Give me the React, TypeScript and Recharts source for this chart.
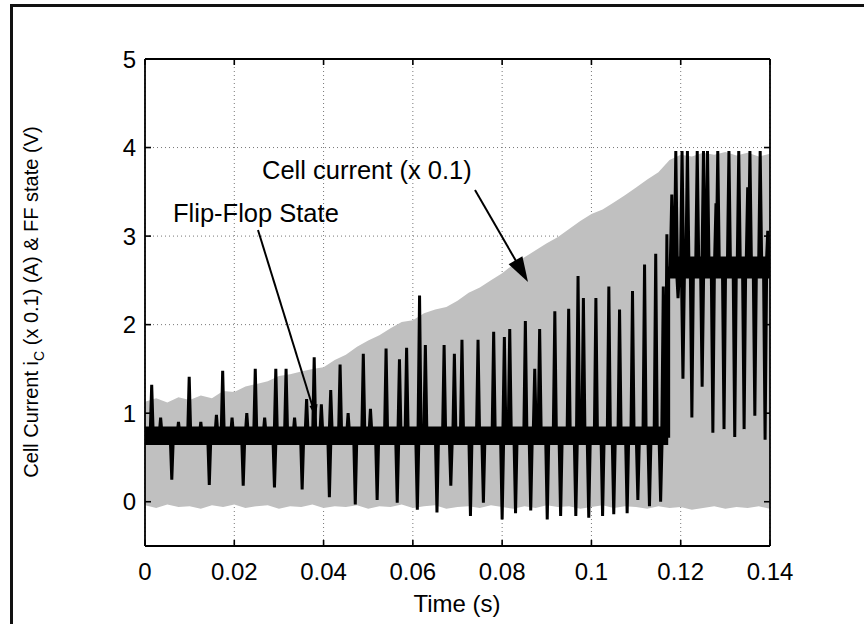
import React from 'react';
import { ComposedChart, Area, Line, XAxis, YAxis, CartesianGrid } from 'recharts';

// ---------- data ----------
const xTicks = [0, 0.02, 0.04, 0.06, 0.08, 0.1, 0.12, 0.14];
const yTicks = [0, 1, 2, 3, 4, 5];

// Cell current (x 0.1) envelope (gray band)
const envT = [
  0, 0.0025, 0.005, 0.0075, 0.01, 0.0125, 0.015, 0.0175, 0.02, 0.0225,
  0.025, 0.0275, 0.03, 0.0325, 0.035, 0.0375, 0.04, 0.0425, 0.045, 0.0475,
  0.05, 0.0525, 0.055, 0.0575, 0.06, 0.0625, 0.065, 0.0675, 0.07, 0.0725,
  0.075, 0.0775, 0.08, 0.0825, 0.085, 0.0875, 0.09, 0.0925, 0.095, 0.0975,
  0.1, 0.1025, 0.105, 0.1075, 0.11, 0.1125, 0.115, 0.1175, 0.12, 0.1225,
  0.125, 0.1275, 0.13, 0.1325, 0.135, 0.1375, 0.14,
];
const envHigh = [
  1.13, 1.17, 1.12, 1.18, 1.15, 1.2, 1.17, 1.25, 1.24, 1.3,
  1.33, 1.36, 1.42, 1.44, 1.47, 1.5, 1.52, 1.6, 1.66, 1.75,
  1.82, 1.88, 1.96, 2.03, 2.05, 2.13, 2.17, 2.2, 2.27, 2.36,
  2.42, 2.5, 2.58, 2.68, 2.76, 2.84, 2.92, 2.99, 3.08, 3.17,
  3.25, 3.3, 3.38, 3.46, 3.55, 3.64, 3.72, 3.86, 3.92, 3.9,
  3.94, 3.92, 3.95, 3.91, 3.94, 3.9, 3.93,
];
const envLow = [
  -0.04, -0.07, -0.03, -0.06, -0.05, -0.08, -0.04, -0.06, -0.03, -0.07,
  -0.05, -0.04, -0.08, -0.05, -0.06, -0.03, -0.07, -0.05, -0.06, -0.04,
  -0.08, -0.05, -0.06, -0.03, -0.07, -0.05, -0.04, -0.08, -0.06, -0.05,
  -0.07, -0.04, -0.06, -0.08, -0.05, -0.07, -0.04, -0.06, -0.05, -0.08,
  -0.06, -0.04, -0.07, -0.05, -0.06, -0.08, -0.05, -0.07, -0.06, -0.09,
  -0.07, -0.05, -0.08, -0.06, -0.07, -0.05, -0.08,
];

// Flip-flop state: dense noise band around the resting level
const bandT = [0, 0.1172, 0.1174, 0.14];
const bandLow = [0.64, 0.64, 2.52, 2.52];
const bandHigh = [0.85, 0.85, 2.77, 2.77];

// Flip-flop state: resting levels and spikes
const ffLevelBefore = 0.74;
const ffLevelAfter = 2.64;
const ffSwitchT = 0.1173;
const spikeT = [
  0.0015, 0.0035, 0.006, 0.0075, 0.0099, 0.0125, 0.0144, 0.016, 0.0174, 0.0195,
  0.022, 0.0228, 0.0247, 0.0268, 0.029, 0.0293, 0.0316, 0.0335, 0.0352, 0.0362,
  0.0379, 0.0395, 0.0413, 0.0416, 0.0437, 0.0455, 0.0471, 0.0489, 0.0505, 0.052,
  0.054, 0.0565, 0.057, 0.0586, 0.061, 0.0615, 0.0628, 0.0654, 0.067, 0.0685,
  0.0693, 0.071, 0.0729, 0.0746, 0.0758, 0.0781, 0.08, 0.0805, 0.0817, 0.083,
  0.0852, 0.0864, 0.0873, 0.0884, 0.0901, 0.0918, 0.0931, 0.0949, 0.0965, 0.097,
  0.0982, 0.0994, 0.101, 0.1025, 0.1039, 0.105, 0.1063, 0.108, 0.1092, 0.1104,
  0.1119, 0.113, 0.1144, 0.1155, 0.1161, 0.1169,
  0.118, 0.1189, 0.1194, 0.1203, 0.1205, 0.1215, 0.1225, 0.1237, 0.1248, 0.1251,
  0.126, 0.1272, 0.1279, 0.1283, 0.1297, 0.1308, 0.1321, 0.133, 0.1342, 0.135,
  0.1355, 0.1366, 0.1378, 0.1389, 0.1395,
];
const spikeV = [
  1.32, 0.95, 0.25, 0.9, 1.41, 0.9, 0.19, 0.98, 1.48, 0.95,
  0.18, 1.0, 1.5, 0.95, 0.16, 1.5, 1.5, 0.95, 0.14, 1.16,
  1.63, 1.1, 0.05, 1.26, 1.55, 1.0, -0.03, 1.67, 1.05, 0.02,
  1.73, -0.01, 1.61, 1.74, -0.09, 2.33, 1.77, -0.12, 1.77, 0.18,
  1.67, 1.83, -0.16, 1.83, -0.01, 1.92, -0.2, 1.86, 1.95, -0.13,
  2.04, -0.1, 1.5, 1.95, -0.2, 2.15, -0.16, 2.18, -0.16, 2.55,
  2.3, -0.18, 2.3, -0.16, 2.43, -0.14, 2.17, -0.13, 2.38, 0.02,
  2.68, -0.05, 2.8, 0.0, 2.43, 3.02,
  3.47, 3.96, 2.3, 3.96, 1.39, 3.96, 0.95, 3.96, 1.3, 3.96,
  3.96, 0.78, 3.37, 3.96, 0.82, 3.96, 0.73, 3.96, 0.82, 3.55,
  3.96, 0.97, 3.96, 0.7, 3.06,
];

// ---------- series tables built from the arrays ----------
const envData = envT.map((t, i) => ({ t, cell: [envLow[i], envHigh[i]] }));
const bandData = bandT.map((t, i) => ({ t, ff: [bandLow[i], bandHigh[i]] }));

const SPIKE_HALF = 0.00035;
const ffData: { t: number; v: number }[] = [];
ffData.push({ t: 0, v: ffLevelBefore });
let switched = false;
spikeT.forEach((t, i) => {
  if (!switched && t > ffSwitchT) {
    ffData.push({ t: ffSwitchT, v: ffLevelBefore });
    ffData.push({ t: ffSwitchT, v: ffLevelAfter });
    switched = true;
  }
  const base = t < ffSwitchT ? ffLevelBefore : ffLevelAfter;
  ffData.push({ t: t - SPIKE_HALF, v: base });
  ffData.push({ t, v: spikeV[i] });
  ffData.push({ t: t + SPIKE_HALF, v: base });
});
ffData.push({ t: 0.14, v: ffLevelAfter });

// ---------- styling ----------
const FONT = '"Liberation Sans", Arial, Helvetica, sans-serif';
const fmt = (v: number) => String(v);

const BottomTick = (props: any) => {
  const { x, y, payload } = props;
  return (
    <g>
      <line x1={x} x2={x} y1={y} y2={y - 6} stroke="#000" strokeWidth={1.6} />
      <text x={x} y={y + 34} textAnchor="middle" fontSize={24} fontFamily={FONT} fill="#000">
        {fmt(payload.value)}
      </text>
    </g>
  );
};
const TopTick = (props: any) => {
  const { x, y } = props;
  return <line x1={x} x2={x} y1={y} y2={y + 6} stroke="#000" strokeWidth={1.6} />;
};
const LeftTick = (props: any) => {
  const { x, y, payload } = props;
  return (
    <g>
      <line x1={x} x2={x + 6} y1={y} y2={y} stroke="#000" strokeWidth={1.6} />
      <text x={x - 9} y={y + 8.5} textAnchor="end" fontSize={24} fontFamily={FONT} fill="#000">
        {fmt(payload.value)}
      </text>
    </g>
  );
};
const RightTick = (props: any) => {
  const { x, y } = props;
  return <line x1={x} x2={x - 6} y1={y} y2={y} stroke="#000" strokeWidth={1.6} />;
};

export default function App() {
  return (
    <div
      style={{
        position: 'absolute',
        left: 0,
        top: 0,
        width: 864,
        height: 624,
        overflow: 'hidden',
        background: '#fff',
      }}
    >
      <div
        style={{
          position: 'absolute',
          left: 10,
          top: 4,
          width: 900,
          height: 700,
          borderLeft: '3px solid #111',
          borderTop: '3px solid #111',
        }}
      />
      <div style={{ position: 'absolute', left: 0, top: 0 }}>
        <ComposedChart
          width={864}
          height={624}
          margin={{ top: 58, right: 93, bottom: 38, left: 85 }}
        >
          <CartesianGrid stroke="#777" strokeDasharray="1 3" strokeWidth={1} />
          <XAxis
            dataKey="t"
            type="number"
            domain={[0, 0.14]}
            ticks={xTicks}
            interval={0}
            height={40}
            tickSize={0}
            tickMargin={0}
            tick={<BottomTick />}
            axisLine={{ stroke: '#000', strokeWidth: 1.8 }}
            allowDataOverflow
          />
          <XAxis
            xAxisId="top"
            orientation="top"
            dataKey="t"
            type="number"
            domain={[0, 0.14]}
            ticks={xTicks}
            interval={0}
            height={1}
            tickSize={0}
            tickMargin={0}
            tick={<TopTick />}
            axisLine={{ stroke: '#000', strokeWidth: 1.8 }}
            allowDataOverflow
          />
          <YAxis
            type="number"
            domain={[-0.5, 5]}
            ticks={yTicks}
            interval={0}
            width={60}
            tickSize={0}
            tickMargin={0}
            tick={<LeftTick />}
            axisLine={{ stroke: '#000', strokeWidth: 1.8 }}
            allowDataOverflow
          />
          <YAxis
            yAxisId="right"
            orientation="right"
            type="number"
            domain={[-0.5, 5]}
            ticks={yTicks}
            interval={0}
            width={1}
            tickSize={0}
            tickMargin={0}
            tick={<RightTick />}
            axisLine={{ stroke: '#000', strokeWidth: 1.8 }}
            allowDataOverflow
          />
          <Area
            data={envData}
            dataKey="cell"
            type="linear"
            fill="#c0c0c0"
            fillOpacity={1}
            stroke="none"
            isAnimationActive={false}
          />
          <Area
            data={bandData}
            dataKey="ff"
            type="linear"
            fill="#000"
            fillOpacity={1}
            stroke="none"
            isAnimationActive={false}
          />
          <Line
            data={ffData}
            dataKey="v"
            type="linear"
            stroke="#000"
            strokeWidth={3}
            dot={false}
            isAnimationActive={false}
          />
        </ComposedChart>
      </div>
      <svg
        width={864}
        height={624}
        style={{ position: 'absolute', left: 0, top: 0, pointerEvents: 'none' }}
      >
        <text x={262} y={179} fontSize={25.5} fontFamily={FONT} fill="#000">
          Cell current (x 0.1)
        </text>
        <text x={173} y={222} fontSize={25.5} fontFamily={FONT} fill="#000">
          Flip-Flop State
        </text>
        {/* arrow to cell current */}
        <line x1={475} y1={190} x2={516} y2={261} stroke="#000" strokeWidth={2} />
        <polygon points="528,282 508.6,264.3 522.4,256.3" fill="#000" />
        {/* arrow to flip-flop state */}
        <line x1={258} y1={230} x2={313} y2={408} stroke="#000" strokeWidth={2} />
        <polygon points="316,418 309.5,406 317.5,404" fill="#000" />
        <text x={457} y={612} textAnchor="middle" fontSize={24} fontFamily={FONT} fill="#000">
          Time (s)
        </text>
        <text
          x={0}
          y={0}
          transform="translate(38,302) rotate(-90)"
          textAnchor="middle"
          fontSize={20}
          fontFamily={FONT}
          fill="#000"
        >
          Cell Current i
          <tspan dy={6} fontSize={14}>C</tspan>
          <tspan dy={-6}> (x 0.1) (A) &amp; FF state (V)</tspan>
        </text>
      </svg>
    </div>
  );
}
